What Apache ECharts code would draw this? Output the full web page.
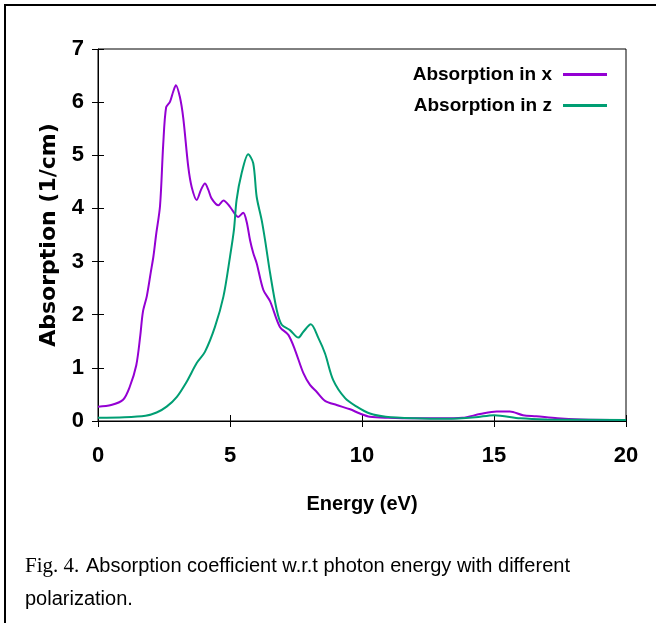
<!DOCTYPE html>
<html>
<head>
<meta charset="utf-8">
<script src="https://cdn.jsdelivr.net/npm/echarts@6/dist/echarts.min.js"></script>
<style>
  html, body { margin: 0; padding: 0; background: #fff; }
  #chart { width: 656px; height: 623px; }
</style>
</head>
<body>
<div id="chart"></div>
<script>
// absorption for x polarization
var energyX = [0, 0.5, 0.95, 1.2, 1.45, 1.6, 1.7, 1.85, 2.0, 2.1, 2.2, 2.35, 2.47, 2.58, 2.73, 2.85, 2.95, 3.1, 3.23, 3.42,
    3.55, 3.74, 3.9, 4.05, 4.18, 4.3, 4.56, 4.75, 5.0, 5.31, 5.5, 5.63, 5.76, 5.88, 6.01, 6.26, 6.52, 6.89, 7.21, 7.46,
    7.78, 8.03, 8.28, 8.6, 9.04, 9.55, 9.92, 10.3, 11, 12, 13, 13.8, 14.47, 15.1, 15.6, 16.1, 16.6, 17.4, 18.3, 20];
var absX = [0.27, 0.3, 0.4, 0.64, 1.05, 1.6, 2.05, 2.35, 2.8, 3.1, 3.5, 4.05, 5.2, 5.9, 6.01, 6.2, 6.32, 6.1, 5.7, 4.78,
    4.4, 4.16, 4.35, 4.47, 4.35, 4.19, 4.06, 4.15, 4.03, 3.84, 3.92, 3.75, 3.4, 3.16, 2.97, 2.47, 2.25, 1.77, 1.62, 1.34,
    0.9, 0.68, 0.55, 0.38, 0.3, 0.22, 0.14, 0.08, 0.06, 0.05, 0.05, 0.06, 0.13, 0.18, 0.18, 0.11, 0.09, 0.05, 0.03, 0.02];

// absorption for z polarization
var energyZ = [0, 1, 1.8, 2.22, 2.6, 2.98, 3.36, 3.74, 4.05, 4.43, 4.75, 5.0, 5.15, 5.25, 5.44, 5.69, 5.88, 6.01, 6.2, 6.33,
    6.52, 6.77, 6.96, 7.27, 7.59, 7.78, 8.06, 8.35, 8.6, 8.91, 9.36, 9.8, 10.3, 10.9, 12, 13.2, 14.3, 15.0, 16, 17, 20];
var absZ = [0.06, 0.07, 0.1, 0.16, 0.27, 0.45, 0.74, 1.09, 1.3, 1.77, 2.34, 3.09, 3.6, 4.16, 4.66, 5.02, 4.85, 4.22, 3.78, 3.4,
    2.78, 2.09, 1.81, 1.71, 1.57, 1.68, 1.82, 1.56, 1.27, 0.77, 0.43, 0.27, 0.14, 0.08, 0.05, 0.04, 0.07, 0.11, 0.05, 0.03, 0.02];

var xTicks = [0, 5, 10, 15, 20];
var yTicks = [0, 1, 2, 3, 4, 5, 6, 7];

var bold = '"Liberation Sans", "DejaVu Sans Condensed", sans-serif';
var capFont = '"Liberation Sans", sans-serif';

function pairs(xs, ys) {
    var out = [];
    for (var i = 0; i < xs.length; i++) out.push([xs[i], ys[i]]);
    return out;
}

var myChart = echarts.init(document.getElementById('chart'));

var tickStyle = { inside: true, length: 6, lineStyle: { color: '#000', width: 1 } };

var option = {
    animation: false,
    backgroundColor: '#fff',
    grid: {
        left: 98,
        right: 30,
        top: 49,
        bottom: 202,
        show: true,
        borderColor: '#000',
        borderWidth: 1
    },
    legend: {
        orient: 'vertical',
        right: 44,
        top: 60,
        align: 'right',
        icon: 'rect',
        itemWidth: 44,
        itemHeight: 3,
        itemGap: 12,
        textStyle: {
            fontFamily: bold,
            fontWeight: 'bold',
            fontSize: 19,
            color: '#000',
            padding: [0, 6, 0, 0]
        },
        data: ['Absorption in x', 'Absorption in z']
    },
    xAxis: [
        {
            type: 'value',
            min: xTicks[0],
            max: xTicks[xTicks.length - 1],
            interval: 5,
            splitLine: { show: false },
            axisLine: { lineStyle: { color: '#000' } },
            axisTick: tickStyle,
            axisLabel: {
                margin: 24,
                fontFamily: bold,
                fontWeight: 'bold',
                fontSize: 22,
                color: '#000'
            },
            name: 'Energy (eV)',
            nameLocation: 'middle',
            nameGap: 73,
            nameTextStyle: {
                fontFamily: bold,
                fontWeight: 'bold',
                fontSize: 20,
                color: '#000'
            }
        },
        {
            type: 'value',
            position: 'top',
            min: 0,
            max: 20,
            interval: 5,
            splitLine: { show: false },
            axisLine: { show: false },
            axisTick: tickStyle,
            axisLabel: { show: false }
        }
    ],
    yAxis: [
        {
            type: 'value',
            min: yTicks[0],
            max: yTicks[yTicks.length - 1],
            interval: 1,
            splitLine: { show: false },
            axisLine: { lineStyle: { color: '#000' } },
            axisTick: tickStyle,
            axisLabel: {
                margin: 14,
                fontFamily: bold,
                fontWeight: 'bold',
                fontSize: 22,
                color: '#000'
            },
            name: 'Absorption (1/cm)',
            nameLocation: 'middle',
            nameGap: 38,
            nameRotate: 90,
            nameTextStyle: {
                fontFamily: '"DejaVu Sans", sans-serif',
                fontWeight: 'bold',
                fontSize: 22,
                color: '#000'
            }
        },
        {
            type: 'value',
            position: 'right',
            min: 0,
            max: 7,
            interval: 1,
            splitLine: { show: false },
            axisLine: { show: false },
            axisTick: tickStyle,
            axisLabel: { show: false }
        }
    ],
    graphic: [
        {
            type: 'rect',
            shape: { x: 5, y: 5, width: 700, height: 700 },
            style: { fill: null, stroke: '#000', lineWidth: 2 },
            silent: true
        },
        {
            type: 'text',
            left: 25,
            top: 556,
            style: {
                text: '{a|Fig. 4.}  {b|Absorption coefficient w.r.t photon energy with different}',
                rich: {
                    a: { fontFamily: '"Liberation Serif", serif', fontSize: 21, fill: '#000' },
                    b: { fontFamily: capFont, fontSize: 20, fill: '#000' }
                }
            }
        },
        {
            type: 'text',
            left: 25,
            top: 589,
            style: {
                text: 'polarization.',
                fontFamily: capFont,
                fontSize: 20,
                fill: '#000'
            }
        }
    ],
    series: [
        {
            name: 'Absorption in x',
            type: 'line',
            data: pairs(energyX, absX),
            showSymbol: false,
            smooth: 0.3,
            color: '#9400D3',
            lineStyle: { width: 2, color: '#9400D3' }
        },
        {
            name: 'Absorption in z',
            type: 'line',
            data: pairs(energyZ, absZ),
            showSymbol: false,
            smooth: 0.3,
            color: '#009E73',
            lineStyle: { width: 2, color: '#009E73' }
        }
    ]
};

myChart.setOption(option);
window.onresize = function () {
    myChart.resize();
};
</script>
</body>
</html>
